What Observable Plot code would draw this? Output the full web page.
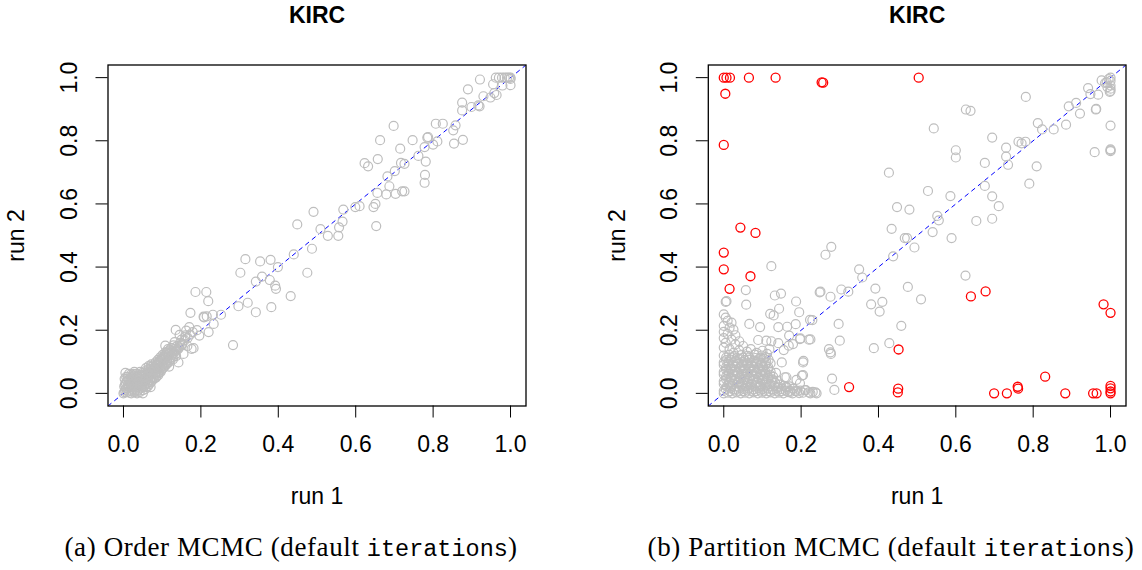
<!DOCTYPE html>
<html>
<head>
<meta charset="utf-8">
<script src="https://cdn.jsdelivr.net/npm/d3@7"></script>
<script src="https://cdn.jsdelivr.net/npm/@observablehq/plot@0.6"></script>
<style>
  html, body { margin: 0; padding: 0; background: #fff; }
  #wrap { position: relative; width: 1142px; height: 570px; overflow: hidden; background: #fff; }
  .panel { position: absolute; top: 0; }
  .cap { position: absolute; top: 535px; width: 640px; text-align: center; white-space: nowrap;
         font-family: "Liberation Serif", serif; font-size: 27px; line-height: 25px; letter-spacing: 0.6px; color: #000; }
  .cap .tt { font-family: "Liberation Mono", monospace; font-size: 23.5px; letter-spacing: 0; }
</style>
</head>
<body>
<div id="wrap">
  <div class="panel" id="left" style="left:0px"></div>
  <div class="panel" id="right" style="left:571px"></div>
  <div class="cap" style="left:-29px">(a) Order MCMC (default <span class="tt">iterations</span>)</div>
  <div class="cap" style="left:571px">(b) Partition MCMC (default <span class="tt">iterations</span>)</div>
</div>
<script>
// ---- data (run 1, run 2) ----
const panelTitle = "KIRC";
const xLabel = "run 1";
const yLabel = "run 2";
const tickValues = [0, 0.2, 0.4, 0.6, 0.8, 1.0];
const axisDomain = [-0.04, 1.04];

// Order MCMC: scattered points
const orderSparse = [
[0.921,0.994],[0.962,1.0],[0.970,1.0],[0.978,1.0],[0.985,1.0],[0.991,1.0],[0.996,1.0],[1.0,1.0],[1.0,0.996],[1.0,0.976],
[0.979,0.975],[0.955,0.979],[0.890,0.963],[0.930,0.941],[0.948,0.937],[0.964,0.945],[0.958,0.951],[0.875,0.921],[0.875,0.896],[0.899,0.907],
[0.920,0.909],[0.917,0.912],[0.807,0.854],[0.825,0.854],[0.858,0.849],[0.852,0.833],[0.854,0.791],[0.877,0.803],[0.785,0.810],[0.787,0.812],
[0.778,0.780],[0.800,0.788],[0.811,0.798],[0.747,0.802],[0.698,0.847],[0.663,0.802],[0.715,0.775],[0.762,0.752],[0.781,0.734],[0.717,0.730],
[0.726,0.727],[0.701,0.704],[0.682,0.687],[0.779,0.692],[0.778,0.667],[0.623,0.729],[0.632,0.719],[0.657,0.742],[0.687,0.656],[0.656,0.635],
[0.679,0.630],[0.703,0.632],[0.720,0.640],[0.726,0.640],[0.599,0.590],[0.610,0.593],[0.646,0.590],[0.651,0.600],[0.653,0.530],[0.568,0.582],
[0.566,0.544],[0.557,0.526],[0.555,0.499],[0.528,0.499],[0.509,0.520],[0.491,0.575],[0.449,0.535],[0.487,0.458],[0.440,0.440],[0.399,0.400],
[0.380,0.423],[0.353,0.418],[0.315,0.425],[0.302,0.382],[0.475,0.382],[0.358,0.370],[0.378,0.359],[0.342,0.354],[0.392,0.341],
[0.186,0.321],[0.214,0.321],[0.219,0.292],[0.173,0.255],[0.297,0.276],[0.321,0.287],[0.342,0.257],[0.382,0.273],[0.394,0.331],[0.432,0.308],
[0.283,0.153],[0.252,0.249],[0.231,0.249],[0.208,0.241],[0.215,0.244],[0.233,0.220],[0.220,0.194],[0.196,0.183],[0.179,0.194],[0.162,0.199],
[0.135,0.201],[0.170,0.210],[0.176,0.141],[0.142,0.098],[0.132,0.162],[0.108,0.151],[0.005,0.065],[0.151,0.153],[0.181,0.143],[0.207,0.243],
[0.150,0.170],[0.160,0.180],[0.145,0.185],[0.190,0.200],[0.155,0.125],[0.165,0.150]
];

// Order MCMC: dense cluster near the origin
const orderCluster = [
[0.000,0.000],[0.004,0.010],[0.002,0.022],[0.006,0.034],[0.003,0.046],[0.008,0.004],[0.010,0.016],[0.012,0.028],[0.009,0.040],[0.011,0.052],
[0.015,0.002],[0.017,0.012],[0.019,0.024],[0.016,0.036],[0.018,0.048],[0.022,0.006],[0.024,0.018],[0.026,0.030],[0.023,0.042],[0.025,0.056],
[0.029,0.004],[0.031,0.014],[0.033,0.026],[0.030,0.038],[0.032,0.050],[0.034,0.062],[0.037,0.010],[0.039,0.022],[0.041,0.034],[0.038,0.046],
[0.040,0.058],[0.043,0.068],[0.045,0.016],[0.047,0.028],[0.044,0.040],[0.046,0.052],[0.048,0.064],[0.051,0.010],[0.053,0.022],[0.055,0.034],
[0.052,0.046],[0.054,0.058],[0.056,0.070],[0.058,0.080],[0.060,0.020],[0.062,0.032],[0.059,0.044],[0.061,0.056],[0.063,0.068],[0.065,0.086],
[0.067,0.030],[0.069,0.042],[0.066,0.054],[0.068,0.066],[0.070,0.078],[0.072,0.092],[0.074,0.040],[0.076,0.052],[0.073,0.064],[0.075,0.076],
[0.077,0.088],[0.080,0.048],[0.082,0.060],[0.079,0.072],[0.081,0.084],[0.083,0.098],[0.086,0.056],[0.088,0.068],[0.085,0.080],[0.087,0.092],
[0.089,0.106],[0.092,0.066],[0.094,0.078],[0.091,0.090],[0.093,0.102],[0.095,0.114],[0.098,0.074],[0.100,0.086],[0.097,0.098],[0.099,0.110],
[0.101,0.122],[0.104,0.082],[0.106,0.094],[0.103,0.106],[0.105,0.118],[0.108,0.130],[0.111,0.092],[0.113,0.104],[0.110,0.116],[0.112,0.128],
[0.115,0.140],[0.118,0.100],[0.120,0.112],[0.117,0.124],[0.119,0.136],[0.124,0.120],[0.126,0.132],[0.123,0.144],[0.130,0.128],[0.132,0.140],
[0.129,0.152],[0.137,0.136],[0.139,0.150],[0.144,0.146],[0.146,0.160],[0.152,0.156],[0.158,0.168],[0.160,0.184],[0.166,0.176],[0.172,0.186],
[0.118,0.085],[0.128,0.108],[0.136,0.118],[0.090,0.058],[0.070,0.020],[0.050,0.000],[0.035,0.000],[0.020,0.060],[0.014,0.062],[0.028,0.068],
[0.002,0.004],[0.006,0.016],[0.004,0.028],[0.007,0.052],[0.013,0.006],[0.014,0.020],[0.013,0.044],[0.020,0.000],[0.021,0.030],[0.020,0.052],
[0.027,0.010],[0.028,0.022],[0.027,0.046],[0.026,0.062],[0.035,0.006],[0.035,0.020],[0.036,0.032],[0.035,0.054],[0.042,0.004],[0.042,0.026],
[0.042,0.048],[0.049,0.020],[0.050,0.036],[0.049,0.058],[0.057,0.014],[0.057,0.028],[0.058,0.050],[0.058,0.064],[0.064,0.024],[0.064,0.040],
[0.064,0.062],[0.064,0.076],[0.071,0.036],[0.071,0.050],[0.071,0.070],[0.071,0.084],[0.078,0.046],[0.078,0.060],[0.078,0.080],[0.084,0.050],
[0.084,0.066],[0.084,0.088],[0.090,0.064],[0.090,0.080],[0.090,0.098],[0.096,0.068],[0.096,0.084],[0.096,0.106],[0.102,0.080],[0.102,0.096],
[0.102,0.114],[0.108,0.088],[0.108,0.110],[0.108,0.122],[0.114,0.096],[0.114,0.116],[0.114,0.132],[0.121,0.106],[0.121,0.128],[0.127,0.114],
[0.127,0.126],[0.134,0.124],[0.134,0.146],[0.141,0.140],[0.148,0.150]
];

// Partition MCMC: agreeing (grey) points
const partitionSparse = [
[0.781,0.939],[0.626,0.899],[0.638,0.895],[0.543,0.839],[0.694,0.810],[0.600,0.770],[0.600,0.747],[0.730,0.778],[0.730,0.750],[0.735,0.724],
[0.675,0.730],[0.762,0.797],[0.770,0.792],[0.780,0.797],[0.812,0.856],[0.823,0.836],[0.853,0.836],[0.885,0.851],[0.892,0.909],[0.911,0.920],
[0.921,0.886],[0.942,0.967],[0.948,0.948],[0.963,0.901],[0.962,0.899],[0.968,0.946],[0.977,0.991],[0.986,0.983],[1.0,1.0],[0.995,0.995],
[1.0,0.990],[0.990,0.985],[1.0,0.975],[1.0,0.965],[0.998,0.955],[1.0,0.958],[0.992,0.970],[1.0,0.848],[0.959,0.764],[1.0,0.773],
[1.0,0.767],[1.0,0.770],[0.809,0.719],[0.790,0.664],[0.675,0.657],[0.694,0.624],[0.711,0.593],[0.694,0.553],[0.653,0.546],[0.586,0.625],
[0.528,0.641],[0.552,0.562],[0.556,0.548],[0.540,0.511],[0.589,0.492],[0.427,0.699],[0.448,0.590],[0.480,0.582],[0.434,0.521],[0.468,0.492],
[0.474,0.492],[0.493,0.462],[0.438,0.434],[0.263,0.439],[0.278,0.464],[0.123,0.403],[0.350,0.393],[0.358,0.367],[0.625,0.373],
[0.250,0.322],[0.276,0.306],[0.304,0.329],[0.322,0.322],[0.392,0.332],[0.476,0.337],[0.510,0.298],[0.381,0.282],[0.410,0.290],[0.403,0.259],
[0.229,0.232],[0.297,0.220],[0.459,0.214],[0.224,0.171],[0.300,0.167],[0.272,0.140],[0.276,0.130],[0.277,0.125],[0.388,0.143],[0.428,0.159],
[0.280,0.047],[0.286,0.011],[0.237,0.003],[0.224,0.000],
[0.058,0.281],[0.005,0.290],[0.007,0.292],[0.057,0.327],[0.132,0.310],[0.148,0.316],[0.187,0.291],[0.248,0.320],[0.223,0.233],[0.220,0.170],
[0.197,0.172],[0.195,0.257],[0.205,0.098],[0.206,0.103],[0.202,0.056],[0.220,0.003],[0.195,0.001],[0.171,0.003],[0.162,0.051],[0.169,0.183],
[0.168,0.151],[0.150,0.098],[0.120,0.252],[0.129,0.247],[0.143,0.268],[0.066,0.220],[0.094,0.210],[0.141,0.210],[0.164,0.211],[0.186,0.219],
[0.155,0.137],[0.089,0.169],[0.110,0.167],[0.123,0.165],[0.141,0.159],[0.179,0.156],[0.198,0.174],[0.158,0.051],[0.205,0.058],[0.188,0.043],
[0.197,0.032],[0.160,0.020],[0.180,0.015],[0.230,0.005],[0.240,0.000],[0.210,0.010]
];

// Partition MCMC: dense cluster near the origin
const partitionCluster = [
[0.000,0.000],[0.011,0.002],[0.022,0.000],[0.033,0.003],[0.044,0.000],[0.055,0.002],[0.066,0.000],[0.077,0.003],[0.088,0.000],[0.099,0.002],
[0.110,0.000],[0.121,0.003],[0.132,0.000],[0.143,0.002],[0.154,0.000],[0.166,0.004],[0.178,0.000],[0.190,0.006],[0.205,0.002],[0.212,0.010],
[0.005,0.014],[0.017,0.016],[0.029,0.013],[0.041,0.017],[0.053,0.014],[0.065,0.016],[0.077,0.013],[0.089,0.017],[0.101,0.014],[0.113,0.016],
[0.125,0.013],[0.138,0.017],[0.150,0.014],[0.163,0.020],[0.180,0.015],
[0.000,0.030],[0.012,0.032],[0.024,0.029],[0.036,0.033],[0.048,0.030],[0.060,0.032],[0.072,0.029],[0.084,0.033],[0.096,0.030],[0.108,0.032],
[0.120,0.029],[0.133,0.033],[0.146,0.028],
[0.006,0.045],[0.018,0.047],[0.030,0.044],[0.042,0.048],[0.054,0.045],[0.066,0.047],[0.078,0.044],[0.090,0.048],[0.102,0.045],[0.114,0.047],
[0.126,0.044],
[0.000,0.060],[0.012,0.062],[0.024,0.059],[0.036,0.063],[0.048,0.060],[0.060,0.062],[0.072,0.059],[0.084,0.063],[0.096,0.060],[0.108,0.062],
[0.120,0.059],[0.135,0.065],
[0.006,0.075],[0.018,0.077],[0.030,0.074],[0.042,0.078],[0.054,0.075],[0.066,0.077],[0.078,0.074],[0.090,0.078],[0.102,0.075],[0.114,0.077],
[0.000,0.090],[0.012,0.092],[0.024,0.089],[0.036,0.093],[0.048,0.090],[0.060,0.092],[0.072,0.089],[0.084,0.093],[0.096,0.090],[0.108,0.092],
[0.121,0.095],
[0.006,0.105],[0.018,0.107],[0.030,0.104],[0.042,0.108],[0.054,0.105],[0.066,0.107],[0.078,0.104],[0.090,0.108],[0.104,0.110],[0.116,0.106],
[0.000,0.120],[0.014,0.122],[0.028,0.118],[0.045,0.121],[0.062,0.119],[0.080,0.123],[0.098,0.120],[0.112,0.125],
[0.000,0.250],[0.005,0.240],[0.010,0.230],[0.020,0.224],[0.000,0.214],[0.015,0.208],[0.025,0.202],[0.000,0.195],[0.010,0.188],[0.030,0.184],
[0.000,0.175],[0.020,0.170],[0.040,0.165],[0.005,0.160],[0.030,0.155],[0.050,0.150],[0.000,0.145],[0.015,0.140],[0.040,0.136],[0.060,0.132],
[0.025,0.128],[0.070,0.140],[0.085,0.128],[0.100,0.135],[0.118,0.140],
[0.000,0.008],[0.016,0.007],[0.028,0.009],[0.039,0.008],[0.050,0.007],[0.061,0.009],[0.072,0.008],[0.083,0.007],[0.094,0.009],[0.105,0.008],
[0.116,0.007],[0.127,0.009],[0.138,0.008],[0.149,0.007],[0.160,0.009],[0.172,0.008],[0.185,0.007],[0.198,0.009],
[0.008,0.022],[0.020,0.023],[0.035,0.021],[0.047,0.022],[0.059,0.023],[0.071,0.021],[0.083,0.022],[0.095,0.023],[0.107,0.021],[0.119,0.022],
[0.131,0.023],[0.142,0.021],[0.155,0.024],[0.170,0.022],
[0.000,0.038],[0.015,0.037],[0.027,0.039],[0.039,0.038],[0.051,0.037],[0.063,0.039],[0.075,0.038],[0.087,0.037],[0.099,0.039],[0.111,0.038],
[0.123,0.037],[0.138,0.040],
[0.006,0.053],[0.018,0.052],[0.030,0.054],[0.042,0.053],[0.054,0.052],[0.066,0.054],[0.078,0.053],[0.090,0.052],[0.102,0.054],[0.114,0.053],
[0.128,0.052],
[0.000,0.068],[0.012,0.069],[0.024,0.067],[0.036,0.068],[0.048,0.069],[0.060,0.067],[0.072,0.068],[0.084,0.069],[0.096,0.067],[0.108,0.068],
[0.121,0.069],
[0.006,0.083],[0.018,0.082],[0.030,0.084],[0.042,0.083],[0.054,0.082],[0.066,0.084],[0.078,0.083],[0.090,0.082],[0.102,0.084],[0.115,0.083],
[0.000,0.098],[0.012,0.099],[0.024,0.097],[0.036,0.098],[0.048,0.099],[0.060,0.097],[0.072,0.098],[0.084,0.099],[0.097,0.097],[0.110,0.098],
[0.006,0.113],[0.020,0.114],[0.035,0.112],[0.050,0.113],[0.066,0.114],[0.082,0.112],[0.095,0.113],[0.108,0.115]
];

// Partition MCMC: disagreeing (red) points
const partitionOutliers = [
[0.000,1.0],[0.007,1.0],[0.016,1.0],[0.065,1.0],[0.134,1.0],[0.253,0.985],[0.257,0.984],[0.504,1.0],[0.004,0.949],[0.000,0.787],
[0.043,0.525],[0.082,0.508],[0.000,0.446],[0.000,0.393],[0.069,0.371],[0.015,0.331],[0.452,0.139],[0.324,0.020],[0.451,0.015],[0.450,0.003],
[0.639,0.307],[0.677,0.323],[0.982,0.282],[1.0,0.255],[0.699,0.000],[0.732,0.000],[0.760,0.021],[0.761,0.015],[0.831,0.053],[0.883,0.000],
[0.955,0.000],[0.964,0.000],[1.0,0.024],[1.0,0.016],[1.0,0.006],[1.0,0.000]
];

const GREY = "#BEBEBE", RED = "#FF0000", BLUE = "#0000FF";

function panel({grey, red, marginLeft, marginRight}) {
  const marks = [
    Plot.line(axisDomain, {x: d => d, y: d => d, stroke: BLUE, strokeWidth: 1, strokeDasharray: "4,4.5", clip: true}),
    Plot.dot(grey, {x: d => d[0], y: d => d[1], r: 4.5, stroke: GREY, strokeWidth: 1.2, fill: "none"})
  ];
  if (red) marks.push(Plot.dot(red, {x: d => d[0], y: d => d[1], r: 4.5, stroke: RED, strokeWidth: 1.3, fill: "none"}));
  marks.push(
    Plot.frame({stroke: "#000", strokeWidth: 1.3}),
    Plot.axisX({ticks: tickValues, tickFormat: d3.format(".1f"), tickSize: 12, tickPadding: 18,
      label: xLabel, labelAnchor: "center", labelOffset: 98, labelArrow: "none", fontSize: 23}),
    Plot.axisY({ticks: tickValues, tickFormat: d3.format(".1f"), tickSize: 12, tickPadding: 19, tickRotate: -90,
      label: yLabel, labelAnchor: "center", labelOffset: 100, labelArrow: "none", fontSize: 23}),
    Plot.text([panelTitle], {frameAnchor: "top", dy: -42.5, fontWeight: "bold", fontSize: 23, lineAnchor: "bottom"})
  );
  return Plot.plot({
    width: 571, height: 515,
    marginLeft, marginRight, marginTop: 64.5, marginBottom: 109.5,
    x: {domain: axisDomain},
    y: {domain: axisDomain},
    style: {fontFamily: "'Liberation Sans', Arial, sans-serif", fontSize: "23px", color: "#000", background: "transparent"},
    marks
  });
}

document.getElementById("left").append(panel({grey: orderCluster.concat(orderSparse), marginLeft: 107.5, marginRight: 45.5}));
document.getElementById("right").append(panel({grey: partitionCluster.concat(partitionSparse), red: partitionOutliers, marginLeft: 136.8, marginRight: 16.5}));
</script>
</body>
</html>
